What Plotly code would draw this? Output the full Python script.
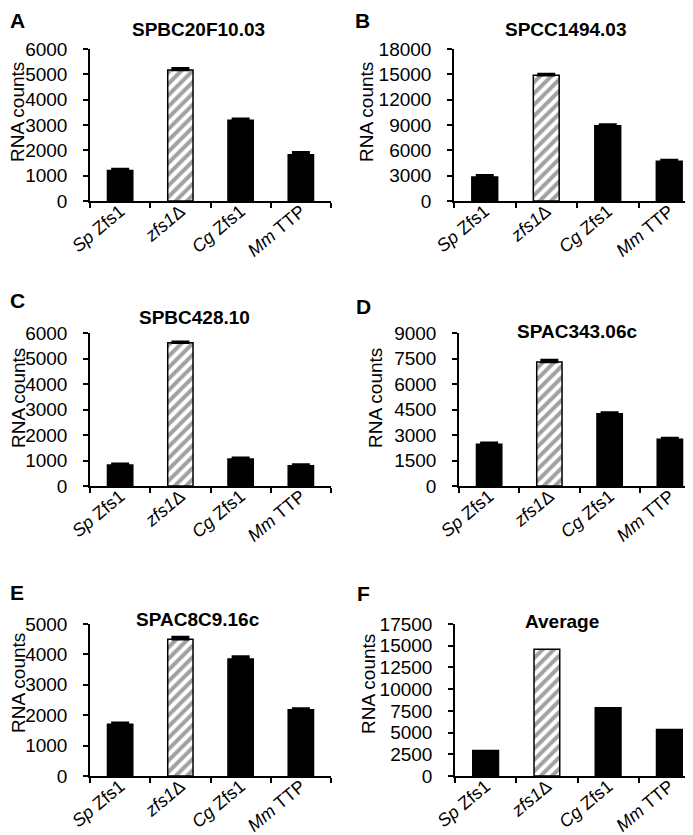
import plotly.graph_objects as go

# ---------------- data ----------------
categories = ["Sp Zfs1", "zfs1Δ", "Cg Zfs1", "Mm TTP"]
tick_labels = ["<i>Sp</i> Zfs1", "<i>zfs1</i>Δ", "<i>Cg</i> Zfs1", "<i>Mm</i> TTP"]

panel_letters = ["A", "B", "C", "D", "E", "F"]
panel_titles = ["SPBC20F10.03", "SPCC1494.03", "SPBC428.10",
                "SPAC343.06c", "SPAC8C9.16c", "Average"]

values_A = [1200, 5170, 3190, 1830]
errors_A = [60, 70, 60, 90]
values_B = [2850, 14900, 8900, 4700]
errors_B = [200, 150, 150, 150]
values_C = [820, 5620, 1060, 790]
errors_C = [50, 40, 50, 50]
values_D = [2450, 7300, 4250, 2750]
errors_D = [90, 110, 70, 80]
values_E = [1700, 4500, 3850, 2180]
errors_E = [50, 70, 80, 40]
values_F = [2950, 14600, 7850, 5360]
errors_F = None

yticks_A = [0, 1000, 2000, 3000, 4000, 5000, 6000]
yticks_B = [0, 3000, 6000, 9000, 12000, 15000, 18000]
yticks_C = [0, 1000, 2000, 3000, 4000, 5000, 6000]
yticks_D = [0, 1500, 3000, 4500, 6000, 7500, 9000]
yticks_E = [0, 1000, 2000, 3000, 4000, 5000]
yticks_F = [0, 2500, 5000, 7500, 10000, 12500, 15000, 17500]

all_values = [values_A, values_B, values_C, values_D, values_E, values_F]
all_errors = [errors_A, errors_B, errors_C, errors_D, errors_E, errors_F]
all_yticks = [yticks_A, yticks_B, yticks_C, yticks_D, yticks_E, yticks_F]

# ---------------- layout (pixels) ----------------
W, H = 693, 835
# plot area: x0, x1, y_top, y_bottom
boxes = [
    (82, 323, 41, 193),
    (446, 692, 41, 193),
    (82, 323, 325, 478),
    (451, 692, 325, 478),
    (82, 323, 616, 768),
    (447, 692, 616, 768),
]
letter_pos = [(9, 13), (354, 13), (9, 292), (355, 298), (9, 584), (355, 585)]
title_pos = [(190, 21), (557, 21), (186, 309), (569, 323), (190, 611), (554, 613)]
ytitle_pos = [(10, 104), (359, 104), (10, 390), (367, 390), (10, 675), (360, 676)]

FONT = "Arial, 'Liberation Sans', sans-serif"

def px_x(x):
    return x / W

def px_y(y):
    return 1 - y / H

fig = go.Figure()
annotations = []

bar_colors = ["black", "white", "black", "black"]
bar_shapes = ["", "/", "", ""]

for i in range(6):
    n = "" if i == 0 else str(i + 1)
    err = all_errors[i]
    if err is not None:
        ey = dict(type="data", symmetric=False, array=err,
                  arrayminus=[0] * len(err), color="black",
                  thickness=2.5, width=9, visible=True)
    else:
        ey = dict(visible=False)
    fig.add_trace(go.Bar(
        x=categories, y=all_values[i],
        width=0.42,
        marker=dict(color=bar_colors,
                    line=dict(color="black", width=1.5),
                    pattern=dict(shape=bar_shapes, fgcolor="black",
                                 bgcolor="white", size=8, solidity=0.5)),
        error_y=ey,
        xaxis="x" + n, yaxis="y" + n,
        showlegend=False,
    ))
    x0, x1, yt, yb = boxes[i]
    yt_vals = all_yticks[i]
    fig.layout["xaxis" + n] = dict(
        domain=[px_x(x0), px_x(x1)], anchor="y" + n,
        type="category", range=[-0.5, 3.5], automargin=False,
        tickmode="array", tickvals=categories, ticktext=tick_labels,
        tickson="boundaries", ticks="outside", ticklen=5, tickwidth=1.5,
        tickcolor="black", tickangle=-40, ticklabelstandoff=-9,
        showline=True, linecolor="black", linewidth=1.5,
        showgrid=False, zeroline=False,
        tickfont=dict(family=FONT, size=18, color="black"),
    )
    fig.layout["yaxis" + n] = dict(
        domain=[px_y(yb), px_y(yt)], anchor="x" + n,
        range=[yt_vals[0], yt_vals[-1]], automargin=False,
        tickmode="array", tickvals=yt_vals,
        ticktext=[str(v) for v in yt_vals],
        ticks="outside", ticklen=5, tickwidth=1.5, tickcolor="black",
        ticklabelstandoff=12,
        showline=True, linecolor="black", linewidth=1.5,
        showgrid=False, zeroline=False,
        tickfont=dict(family=FONT, size=19, color="black"),
    )
    lx, ly = letter_pos[i]
    annotations.append(dict(text="<b>" + panel_letters[i] + "</b>",
                            x=px_x(lx), y=px_y(ly), xref="paper", yref="paper",
                            xanchor="center", yanchor="middle", showarrow=False,
                            font=dict(family=FONT, size=21, color="black")))
    tx, ty = title_pos[i]
    annotations.append(dict(text="<b>" + panel_titles[i] + "</b>",
                            x=px_x(tx), y=px_y(ty), xref="paper", yref="paper",
                            xanchor="center", yanchor="middle", showarrow=False,
                            font=dict(family=FONT, size=19, color="black")))
    ax, ay = ytitle_pos[i]
    annotations.append(dict(text="RNA counts", textangle=-90,
                            x=px_x(ax), y=px_y(ay), xref="paper", yref="paper",
                            xanchor="center", yanchor="middle", showarrow=False,
                            font=dict(family=FONT, size=19, color="black")))

fig.update_layout(
    width=W, height=H,
    margin=dict(l=0, r=0, t=0, b=0, autoexpand=False),
    paper_bgcolor="white", plot_bgcolor="white",
    annotations=annotations,
    bargap=0.58,
)

fig.write_html("out.html")
